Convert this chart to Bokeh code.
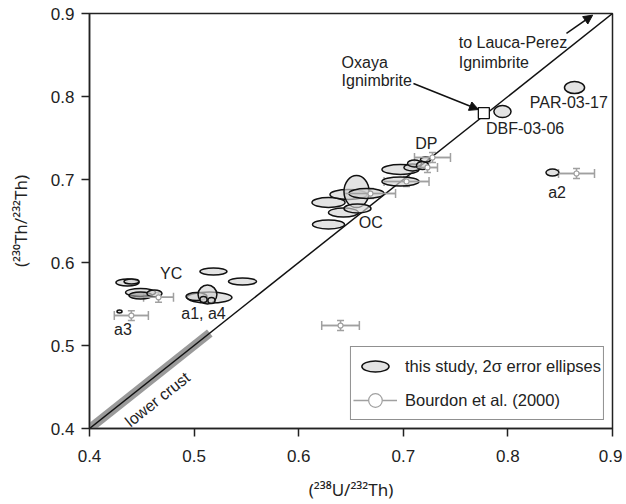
from bokeh.plotting import figure
from bokeh.models import (ColumnDataSource, Whisker, TeeHead, Arrow, NormalHead,
                          Legend, LegendItem, FixedTicker, Range1d)
from bokeh.core.properties import value
from bokeh.embed import file_html
from bokeh.resources import INLINE

# ---- data: this study (2-sigma error ellipses) ----
u_th = [0.4363, 0.4402, 0.4488, 0.4488, 0.4621, 0.5185, 0.5463,
        0.5147, 0.5023, 0.5128, 0.5090, 0.5166, 0.4287,
        0.6285, 0.6476, 0.6553, 0.6648, 0.6428, 0.6562, 0.6285,
        0.6973, 0.6973, 0.7088, 0.7107, 0.7184, 0.7212,
        0.7948, 0.8637, 0.8426]
th_th = [0.5759, 0.5771, 0.5639, 0.5602, 0.5627, 0.5892, 0.5771,
         0.5578, 0.5590, 0.5614, 0.5554, 0.5542, 0.5410,
         0.6723, 0.6819, 0.6855, 0.6831, 0.6602, 0.6651, 0.6458,
         0.7120, 0.6976, 0.7145, 0.7193, 0.7169, 0.7241,
         0.7819, 0.8108, 0.7084]
err_u = [0.0110, 0.0072, 0.0143, 0.0110, 0.0072, 0.0129, 0.0134,
         0.0215, 0.0100, 0.0090, 0.0034, 0.0034, 0.0024,
         0.0158, 0.0177, 0.0120, 0.0168, 0.0143, 0.0129, 0.0153,
         0.0177, 0.0177, 0.0082, 0.0067, 0.0058, 0.0048,
         0.0082, 0.0096, 0.0062]
err_th = [0.0042, 0.0030, 0.0048, 0.0042, 0.0042, 0.0042, 0.0042,
          0.0066, 0.0048, 0.0114, 0.0036, 0.0036, 0.0018,
          0.0060, 0.0060, 0.0193, 0.0060, 0.0054, 0.0054, 0.0054,
          0.0060, 0.0054, 0.0042, 0.0042, 0.0048, 0.0030,
          0.0072, 0.0072, 0.0042]
shade = ["#d4d4d4"] * 29
shade[3] = "#9c9c9c"

# ---- data: Bourdon et al. (2000) ----
b_u = [0.466, 0.440, 0.640, 0.8656, 0.7279, 0.7231, 0.7031, 0.6686]
b_th = [0.558, 0.536, 0.524, 0.7072, 0.7265, 0.7145, 0.6976, 0.6831]
b_err_u = [0.0143, 0.0163, 0.018, 0.0172, 0.0172, 0.0096, 0.0215, 0.024]
b_err_th = [0.006] * 8

# ---- Oxaya Ignimbrite ----
ox_u = [0.777]
ox_th = [0.780]

# ---- labels ----
lab_text = ["YC", "a1, a4", "a3", "OC", "DP", "a2"]
lab_u = [0.478, 0.509, 0.432, 0.669, 0.722, 0.847]
lab_th = [0.587, 0.539, 0.519, 0.648, 0.743, 0.684]
left_text = ["DBF-03-06", "PAR-03-17", "Oxaya", "Ignimbrite", "to Lauca-Perez", "Ignimbrite"]
left_u = [0.779, 0.821, 0.641, 0.641, 0.753, 0.753]
left_th = [0.761, 0.793, 0.841, 0.819, 0.865, 0.841]

ticks = [0.4, 0.5, 0.6, 0.7, 0.8, 0.9]
FONT = "Liberation Sans"

p = figure(width=622, height=503, output_backend="svg", toolbar_location=None,
           x_range=Range1d(0.4, 0.9), y_range=Range1d(0.4, 0.9),
           min_border_left=89, min_border_right=10, min_border_top=13, min_border_bottom=72)
p.grid.visible = False
p.outline_line_color = "#222222"
p.outline_line_width = 1.5
p.background_fill_color = "white"

for ax in (p.xaxis[0], p.yaxis[0]):
    ax.ticker = FixedTicker(ticks=ticks)
    ax.minor_tick_line_color = None
    ax.major_tick_out = 8
    ax.major_tick_in = 0
    ax.axis_line_width = 1.5
    ax.axis_line_color = "#222222"
    ax.major_tick_line_width = 1.5
    ax.major_tick_line_color = "#222222"
    ax.major_label_text_font = FONT
    ax.major_label_text_font_size = "17px"
    ax.major_label_text_color = "#222222"
    ax.axis_label_text_font = "Noto Sans"
    ax.axis_label_text_font_size = "17px"
    ax.axis_label_text_font_style = "normal"
    ax.axis_label_text_color = "#222222"
p.xaxis.axis_label = "(\u00b2\u00b3\u2078U/\u00b2\u00b3\u00b2Th)"
p.yaxis.axis_label = "(\u00b2\u00b3\u2070Th/\u00b2\u00b3\u00b2Th)"
p.xaxis.major_label_standoff = 13
p.yaxis.major_label_standoff = 7
p.xaxis.axis_label_standoff = 13
p.yaxis.axis_label_standoff = 16

# equiline and lower crust band
p.line(x=[0.4, 0.515], y=[0.4, 0.515], line_width=9, line_color="#9a9a9a")
p.line(x=[ticks[0], ticks[-1]], y=[ticks[0], ticks[-1]], line_width=1.5, line_color="#111111")
p.text(x=[0.465], y=[0.435], text=["lower crust"], angle=38.4, angle_units="deg",
       text_font=value(FONT), text_font_size="16px", text_align="center",
       text_baseline="middle", text_color="#222222")

# ellipses
src = ColumnDataSource(dict(x=u_th, y=th_th, w=[2 * e for e in err_u],
                            h=[2 * e for e in err_th], c=shade))
ell = p.ellipse(x="x", y="y", width="w", height="h", source=src,
                fill_color="c", fill_alpha=0.65, line_color="#111111", line_width=1.5)

# Bourdon error bars
bsrc = ColumnDataSource(dict(x=b_u, y=b_th,
                             xl=[a - e for a, e in zip(b_u, b_err_u)],
                             xu=[a + e for a, e in zip(b_u, b_err_u)],
                             yl=[a - e for a, e in zip(b_th, b_err_th)],
                             yu=[a + e for a, e in zip(b_th, b_err_th)]))
GR = "#a0a0a0"
p.add_layout(Whisker(source=bsrc, base="y", lower="xl", upper="xu", dimension="width",
                     line_color=GR, line_width=1.5,
                     lower_head=TeeHead(size=9, line_color=GR, line_width=1.5),
                     upper_head=TeeHead(size=9, line_color=GR, line_width=1.5)))
p.add_layout(Whisker(source=bsrc, base="x", lower="yl", upper="yu", dimension="height",
                     line_color=GR, line_width=1.5,
                     lower_head=TeeHead(size=7, line_color=GR, line_width=1.5),
                     upper_head=TeeHead(size=7, line_color=GR, line_width=1.5)))
bseg = p.segment(x0="xl", x1="xu", y0="y", y1="y", source=bsrc, line_color=GR, line_width=1.5)
bpt = p.scatter(x="x", y="y", source=bsrc, marker="circle", size=5,
                fill_color="white", line_color=GR, line_width=1.2)

# Oxaya square
p.scatter(x=ox_u, y=ox_th, marker="square", size=11, fill_color="white",
          line_color="#111111", line_width=1.3)

# labels
p.text(x=lab_u, y=lab_th, text=lab_text, text_font=value(FONT), text_font_size="16px",
       text_align="center", text_baseline="middle", text_color="#222222")
p.text(x=left_u, y=left_th, text=left_text, text_font=value(FONT), text_font_size="16px",
       text_align="left", text_baseline="middle", text_color="#222222")

# arrows
p.add_layout(Arrow(end=NormalHead(size=9, fill_color="#111111", line_color="#111111"),
                   x_start=0.7097, y_start=0.8157, x_end=0.7719, y_end=0.7843,
                   line_width=1.5, line_color="#111111"))
p.add_layout(Arrow(end=NormalHead(size=9, fill_color="#111111", line_color="#111111"),
                   x_start=0.856, y_start=0.876, x_end=0.881, y_end=0.898,
                   line_width=1.5, line_color="#111111"))

legend = Legend(items=[
    LegendItem(label="this study, 2\u03c3 error ellipses", renderers=[ell], index=22),
    LegendItem(label="Bourdon et al. (2000)", renderers=[bseg, bpt], index=0),
], location="bottom_right")
legend.label_text_font = FONT
legend.label_text_font_size = "16.5px"
legend.label_text_color = "#222222"
legend.border_line_color = "#222222"
legend.border_line_width = 1.5
legend.glyph_width = 44
legend.glyph_height = 34
legend.spacing = 0
legend.padding = 2
legend.margin = 8
legend.label_standoff = 8
p.add_layout(legend)

open("out.html", "w").write(file_html(p, INLINE))
